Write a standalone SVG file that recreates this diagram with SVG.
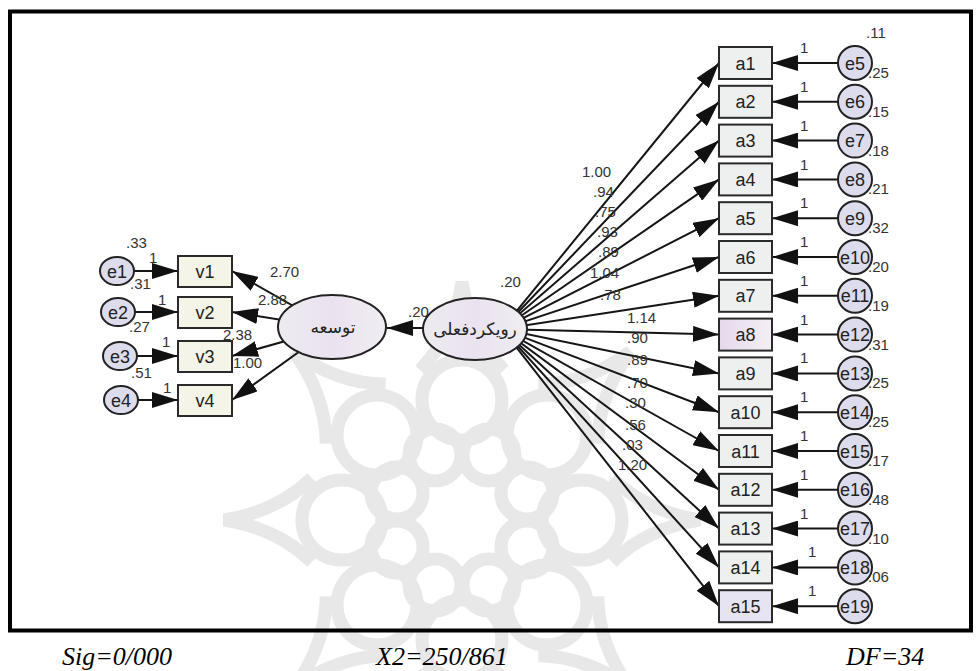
<svg xmlns="http://www.w3.org/2000/svg" width="978" height="671" viewBox="0 0 978 671">
<defs>
<marker id="ah" viewBox="0 0 26 16" refX="26" refY="8" markerWidth="26" markerHeight="16" markerUnits="userSpaceOnUse" orient="auto">
<path d="M0,0 L26,8 L0,16 z" fill="#111"/>
</marker>
<linearGradient id="pink" x1="0" y1="0" x2="1" y2="0">
<stop offset="0" stop-color="#e6d8ec"/><stop offset="1" stop-color="#f3eff4"/>
</linearGradient>
<linearGradient id="lat" x1="0" y1="0" x2="1" y2="0">
<stop offset="0" stop-color="#ecebf0"/><stop offset="0.5" stop-color="#ebe2ef"/><stop offset="1" stop-color="#eeeef2"/>
</linearGradient>
<g id="spike"><path d="M -150 -42 Q -185 -8 -238 0 Q -185 8 -150 42"/></g>
</defs>
<style>
.wm{fill:none;stroke:#e8e8e8;stroke-width:13}
.cn line{stroke:#151515;stroke-width:2;marker-end:url(#ah)}
.box{stroke:#2a2a2a;stroke-width:2}
.abox{fill:#eef0f0}
.vbox{fill:#f4f4e8}
.err{fill:#dcdcec;stroke:#222;stroke-width:2}
.lat{fill:url(#lat);stroke:#222;stroke-width:2}
.nt{font-family:"Liberation Sans",Arial,sans-serif;font-size:18px;fill:#222;text-anchor:middle}
.num{font-family:"Liberation Sans",Arial,sans-serif;font-size:15px;fill:#333}
.fa{font-family:"DejaVu Sans",sans-serif;font-size:17px;fill:#222;text-anchor:middle}
.bt{font-family:"Liberation Serif","Times New Roman",serif;font-style:italic;font-size:26px;fill:#000}
</style>
<rect width="978" height="671" fill="#fff"/>
<g id="watermark" class="wm" transform="translate(462,520)">
<circle cx="120" cy="0" r="40"/><circle cx="85" cy="85" r="40"/><circle cx="0" cy="120" r="40"/><circle cx="-85" cy="85" r="40"/>
<circle cx="-120" cy="0" r="40"/><circle cx="-85" cy="-85" r="40"/><circle cx="0" cy="-120" r="40"/><circle cx="85" cy="-85" r="40"/>
<circle cx="65" cy="27" r="26"/><circle cx="27" cy="65" r="26"/><circle cx="-27" cy="65" r="26"/><circle cx="-65" cy="27" r="26"/>
<circle cx="-65" cy="-27" r="26"/><circle cx="-27" cy="-65" r="26"/><circle cx="27" cy="-65" r="26"/><circle cx="65" cy="-27" r="26"/>
<use href="#spike"/><use href="#spike" transform="rotate(45)"/><use href="#spike" transform="rotate(90)"/><use href="#spike" transform="rotate(135)"/>
<use href="#spike" transform="rotate(180)"/><use href="#spike" transform="rotate(225)"/><use href="#spike" transform="rotate(270)"/><use href="#spike" transform="rotate(315)"/>
</g>
<rect x="10" y="11.5" width="961" height="619" fill="none" stroke="#000" stroke-width="4"/>

<g id="connectors" class="cn">
<line x1="502" y1="329" x2="719" y2="63"/>
<line x1="502" y1="329" x2="719" y2="101.8"/>
<line x1="502" y1="329" x2="719" y2="140.6"/>
<line x1="502" y1="329" x2="719" y2="179.4"/>
<line x1="502" y1="329" x2="719" y2="218.2"/>
<line x1="502" y1="329" x2="719" y2="257"/>
<line x1="502" y1="329" x2="719" y2="295.8"/>
<line x1="502" y1="329" x2="719" y2="334.6"/>
<line x1="502" y1="329" x2="719" y2="373.4"/>
<line x1="502" y1="329" x2="719" y2="412.2"/>
<line x1="502" y1="329" x2="719" y2="451"/>
<line x1="502" y1="329" x2="719" y2="489.8"/>
<line x1="502" y1="329" x2="719" y2="528.6"/>
<line x1="502" y1="329" x2="719" y2="567.4"/>
<line x1="502" y1="329" x2="719" y2="606.2"/>
<line x1="838" y1="63" x2="772" y2="63"/>
<line x1="838" y1="101.8" x2="772" y2="101.8"/>
<line x1="838" y1="140.6" x2="772" y2="140.6"/>
<line x1="838" y1="179.4" x2="772" y2="179.4"/>
<line x1="838" y1="218.2" x2="772" y2="218.2"/>
<line x1="838" y1="257" x2="772" y2="257"/>
<line x1="838" y1="295.8" x2="772" y2="295.8"/>
<line x1="838" y1="334.6" x2="772" y2="334.6"/>
<line x1="838" y1="373.4" x2="772" y2="373.4"/>
<line x1="838" y1="412.2" x2="772" y2="412.2"/>
<line x1="838" y1="451" x2="772" y2="451"/>
<line x1="838" y1="489.8" x2="772" y2="489.8"/>
<line x1="838" y1="528.6" x2="772" y2="528.6"/>
<line x1="838" y1="567.4" x2="772" y2="567.4"/>
<line x1="838" y1="606.2" x2="772" y2="606.2"/>
<line x1="423" y1="328" x2="387" y2="328"/>
<line x1="332" y1="328" x2="232" y2="271"/>
<line x1="332" y1="328" x2="232" y2="312"/>
<line x1="332" y1="328" x2="232" y2="356"/>
<line x1="332" y1="328" x2="232" y2="400"/>
<line x1="134" y1="271" x2="178" y2="271"/>
<line x1="135" y1="312" x2="178" y2="312"/>
<line x1="137" y1="356" x2="178" y2="356"/>
<line x1="138" y1="400" x2="178" y2="400"/>
</g>

<g id="labels" class="num">
<text x="582" y="177">1.00</text>
<text x="593" y="197">.94</text>
<text x="595" y="217">.75</text>
<text x="597" y="237">.93</text>
<text x="598" y="257">.89</text>
<text x="590" y="278">1.04</text>
<text x="600" y="300">.78</text>
<text x="627" y="323">1.14</text>
<text x="627" y="343">.90</text>
<text x="627" y="365">.89</text>
<text x="627" y="388">.70</text>
<text x="625" y="408">.30</text>
<text x="625" y="430">.56</text>
<text x="622" y="450">.03</text>
<text x="618" y="470">1.20</text>
<text x="500" y="287">.20</text>
<text x="408" y="317">.20</text>
<text x="270" y="277">2.70</text>
<text x="258" y="305">2.88</text>
<text x="223" y="340">2.38</text>
<text x="233" y="368">1.00</text>
<text x="126" y="248">.33</text>
<text x="149" y="263">1</text>
<text x="130" y="289">.31</text>
<text x="158" y="305">1</text>
<text x="129" y="332">.27</text>
<text x="162" y="347">1</text>
<text x="131" y="378">.51</text>
<text x="163" y="393">1</text>
<text x="866" y="38">.11</text>
<text x="800" y="53">1</text>
<text x="800" y="92">1</text>
<text x="800" y="131">1</text>
<text x="800" y="170">1</text>
<text x="800" y="208">1</text>
<text x="800" y="247">1</text>
<text x="800" y="286">1</text>
<text x="800" y="325">1</text>
<text x="800" y="363">1</text>
<text x="800" y="402">1</text>
<text x="800" y="441">1</text>
<text x="800" y="480">1</text>
<text x="800" y="519">1</text>
<text x="808" y="557">1</text>
<text x="808" y="596">1</text>
<text x="868" y="78">.25</text>
<text x="868" y="117">.15</text>
<text x="868" y="156">.18</text>
<text x="868" y="194">.21</text>
<text x="868" y="233">.32</text>
<text x="868" y="272">.20</text>
<text x="868" y="311">.19</text>
<text x="868" y="350">.31</text>
<text x="868" y="388">.25</text>
<text x="868" y="427">.25</text>
<text x="868" y="466">.17</text>
<text x="868" y="505">.48</text>
<text x="868" y="544">.10</text>
<text x="868" y="582">.06</text>
</g>

<g id="ravikard"><ellipse class="lat" cx="475" cy="329" rx="52" ry="31"/><text class="fa" x="475" y="335">رویکردفعلی</text></g>
<g id="tosee"><ellipse class="lat" cx="332" cy="327" rx="54" ry="32"/><text class="fa" x="333" y="333">توسعه</text></g>

<g id="v1"><rect class="box vbox" x="178" y="256" width="54" height="31"/><text class="nt" x="205" y="278">v1</text></g>
<g id="v2"><rect class="box vbox" x="178" y="297" width="54" height="31"/><text class="nt" x="205" y="319">v2</text></g>
<g id="v3"><rect class="box vbox" x="178" y="341" width="54" height="31"/><text class="nt" x="205" y="363">v3</text></g>
<g id="v4"><rect class="box vbox" x="178" y="385" width="54" height="31"/><text class="nt" x="205" y="407">v4</text></g>

<g id="e1"><ellipse class="err" cx="117" cy="271" rx="17" ry="14"/><text class="nt" x="117" y="278">e1</text></g>
<g id="e2"><ellipse class="err" cx="118" cy="312" rx="17" ry="14"/><text class="nt" x="118" y="319">e2</text></g>
<g id="e3"><ellipse class="err" cx="120" cy="356" rx="17" ry="14"/><text class="nt" x="120" y="363">e3</text></g>
<g id="e4"><ellipse class="err" cx="121" cy="400" rx="17" ry="14"/><text class="nt" x="121" y="407">e4</text></g>

<g id="a1"><rect class="box abox" x="719" y="47" width="53" height="32"/><text class="nt" x="745.5" y="69.5">a1</text></g>
<g id="a2"><rect class="box abox" x="719" y="85.8" width="53" height="32"/><text class="nt" x="745.5" y="108.3">a2</text></g>
<g id="a3"><rect class="box abox" x="719" y="124.6" width="53" height="32"/><text class="nt" x="745.5" y="147.1">a3</text></g>
<g id="a4"><rect class="box abox" x="719" y="163.4" width="53" height="32"/><text class="nt" x="745.5" y="185.9">a4</text></g>
<g id="a5"><rect class="box abox" x="719" y="202.2" width="53" height="32"/><text class="nt" x="745.5" y="224.7">a5</text></g>
<g id="a6"><rect class="box abox" x="719" y="241" width="53" height="32"/><text class="nt" x="745.5" y="263.5">a6</text></g>
<g id="a7"><rect class="box abox" x="719" y="279.8" width="53" height="32"/><text class="nt" x="745.5" y="302.3">a7</text></g>
<g id="a8"><rect class="box" fill="url(#pink)" x="719" y="318.6" width="53" height="32"/><text class="nt" x="745.5" y="341.1">a8</text></g>
<g id="a9"><rect class="box abox" x="719" y="357.4" width="53" height="32"/><text class="nt" x="745.5" y="379.9">a9</text></g>
<g id="a10"><rect class="box abox" x="719" y="396.2" width="53" height="32"/><text class="nt" x="745.5" y="418.7">a10</text></g>
<g id="a11"><rect class="box abox" x="719" y="435" width="53" height="32"/><text class="nt" x="745.5" y="457.5">a11</text></g>
<g id="a12"><rect class="box abox" x="719" y="473.8" width="53" height="32"/><text class="nt" x="745.5" y="496.3">a12</text></g>
<g id="a13"><rect class="box abox" x="719" y="512.6" width="53" height="32"/><text class="nt" x="745.5" y="535.1">a13</text></g>
<g id="a14"><rect class="box abox" x="719" y="551.4" width="53" height="32"/><text class="nt" x="745.5" y="573.9">a14</text></g>
<g id="a15"><rect class="box" fill="#e6e4f2" x="719" y="590.2" width="53" height="32"/><text class="nt" x="745.5" y="612.7">a15</text></g>

<g id="e5"><circle class="err" cx="855" cy="63" r="17"/><text class="nt" x="855" y="69.5">e5</text></g>
<g id="e6"><circle class="err" cx="855" cy="101.8" r="17"/><text class="nt" x="855" y="108.3">e6</text></g>
<g id="e7"><circle class="err" cx="855" cy="140.6" r="17"/><text class="nt" x="855" y="147.1">e7</text></g>
<g id="e8"><circle class="err" cx="855" cy="179.4" r="17"/><text class="nt" x="855" y="185.9">e8</text></g>
<g id="e9"><circle class="err" cx="855" cy="218.2" r="17"/><text class="nt" x="855" y="224.7">e9</text></g>
<g id="e10"><circle class="err" cx="855" cy="257" r="17"/><text class="nt" x="855" y="263.5">e10</text></g>
<g id="e11"><circle class="err" cx="855" cy="295.8" r="17"/><text class="nt" x="855" y="302.3">e11</text></g>
<g id="e12"><circle class="err" cx="855" cy="334.6" r="17"/><text class="nt" x="855" y="341.1">e12</text></g>
<g id="e13"><circle class="err" cx="855" cy="373.4" r="17"/><text class="nt" x="855" y="379.9">e13</text></g>
<g id="e14"><circle class="err" cx="855" cy="412.2" r="17"/><text class="nt" x="855" y="418.7">e14</text></g>
<g id="e15"><circle class="err" cx="855" cy="451" r="17"/><text class="nt" x="855" y="457.5">e15</text></g>
<g id="e16"><circle class="err" cx="855" cy="489.8" r="17"/><text class="nt" x="855" y="496.3">e16</text></g>
<g id="e17"><circle class="err" cx="855" cy="528.6" r="17"/><text class="nt" x="855" y="535.1">e17</text></g>
<g id="e18"><circle class="err" cx="855" cy="567.4" r="17"/><text class="nt" x="855" y="573.9">e18</text></g>
<g id="e19"><circle class="err" cx="855" cy="606.2" r="17"/><text class="nt" x="855" y="612.7">e19</text></g>

<g id="footer" class="bt">
<text x="62" y="665">Sig=0/000</text>
<text x="376" y="665">X2=250/861</text>
<text x="846" y="665">DF=34</text>
</g>
</svg>
